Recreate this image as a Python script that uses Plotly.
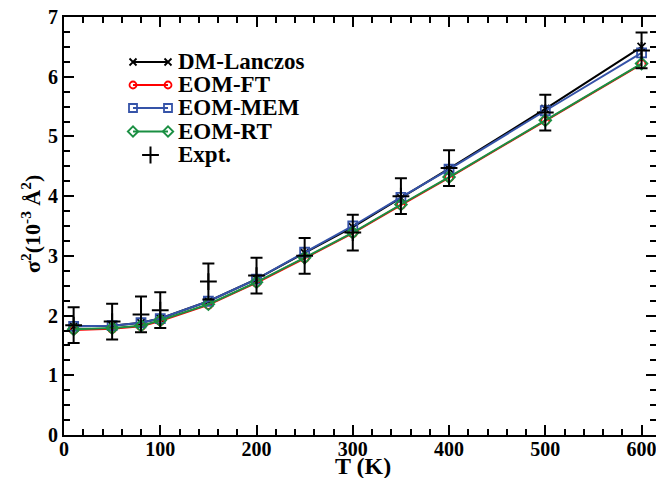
import plotly.graph_objects as go

# ---------------- data ----------------
T = [10, 50, 80, 100, 150, 200, 250, 300, 350, 400, 500, 600]
dm_lanczos = [1.82, 1.83, 1.88, 1.95, 2.24, 2.61, 3.05, 3.48, 3.97, 4.46, 5.46, 6.50]
eom_ft = [1.76, 1.78, 1.82, 1.91, 2.18, 2.55, 2.96, 3.38, 3.85, 4.31, 5.26, 6.21]
eom_mem = [1.82, 1.83, 1.88, 1.95, 2.24, 2.61, 3.06, 3.50, 3.98, 4.45, 5.43, 6.40]
eom_rt = [1.77, 1.79, 1.83, 1.92, 2.19, 2.56, 2.97, 3.39, 3.86, 4.32, 5.27, 6.22]
expt = [1.84, 1.90, 2.02, 2.09, 2.57, 2.67, 3.00, 3.39, 4.00, 4.47, 5.40, 6.44]
expt_err = [0.30, 0.30, 0.30, 0.30, 0.30, 0.30, 0.30, 0.30, 0.30, 0.30, 0.30, 0.30]

names = ["DM-Lanczos", "EOM-FT", "EOM-MEM", "EOM-RT", "Expt."]
colors = ["black", "#ff0000", "#3553a8", "#1a8f42", "black"]
symbols = ["x-thin-open", "circle-open", "square-open", "diamond-open", "cross-thin-open"]
sizes = [8, 8, 9, 9, 12]

FONT = "Liberation Serif"

# plot-area geometry in pixels (used to place legend/titles)
L, R, TOP, BOT = 64, 656, 17, 435


def px(xp):
    return (xp - L) / (R - L)


def py(yp):
    return (BOT - yp) / (BOT - TOP)


fig = go.Figure()
series = [dm_lanczos, eom_ft, eom_mem, eom_rt]
for i, ys in enumerate(series):
    fig.add_trace(go.Scatter(
        x=T, y=ys, mode="lines+markers", name=names[i],
        line=dict(color=colors[i], width=2),
        marker=dict(symbol=symbols[i], size=sizes[i], color=colors[i],
                    line=dict(color=colors[i], width=1.8)),
        showlegend=False))

fig.add_trace(go.Scatter(
    x=T, y=expt, mode="markers", name=names[4],
    marker=dict(symbol=symbols[4], size=sizes[4], color="black",
                line=dict(color="black", width=2)),
    error_y=dict(type="data", array=expt_err, visible=True,
                 color="black", thickness=2, width=6),
    showlegend=False))

# ---------------- custom legend (pixel-based overlay axes) ----------------
leg_rows = [62, 85, 108, 131.5, 155]
leg_x0, leg_x1, leg_tx = 133, 168, 176
for i in range(5):
    yy = leg_rows[i]
    if i < 4:
        fig.add_trace(go.Scatter(
            x=[leg_x0, leg_x1], y=[yy, yy], mode="lines+markers",
            xaxis="x2", yaxis="y2", showlegend=False, hoverinfo="skip",
            line=dict(color=colors[i], width=2),
            marker=dict(symbol=symbols[i], size=sizes[i] - 1, color=colors[i],
                        line=dict(color=colors[i], width=1.8))))
    else:
        fig.add_trace(go.Scatter(
            x=[(leg_x0 + leg_x1) / 2], y=[yy], mode="markers",
            xaxis="x2", yaxis="y2", showlegend=False, hoverinfo="skip",
            marker=dict(symbol=symbols[i], size=sizes[i], color="black",
                        line=dict(color="black", width=2))))
    fig.add_annotation(x=px(leg_tx), y=py(yy), xref="paper", yref="paper",
                       text="<b>%s</b>" % names[i],
                       showarrow=False, xanchor="left", yanchor="middle",
                       font=dict(family=FONT, size=23, color="black"))

# axis titles
fig.add_annotation(x=px(363), y=py(466), xref="paper", yref="paper", text="<b>T (K)</b>",
                   showarrow=False, xanchor="center", yanchor="middle",
                   font=dict(family=FONT, size=24, color="black"))
fig.add_annotation(x=px(31), y=py(224), xref="paper", yref="paper",
                   text="<b>σ<sup>2</sup>(10<sup>-3</sup> Å<sup>2</sup>)</b>",
                   showarrow=False, xanchor="center", yanchor="middle", textangle=-90,
                   font=dict(family=FONT, size=22, color="black"))

axis_common = dict(
    showline=True, linecolor="black", linewidth=2, mirror="ticks",
    ticks="inside", ticklen=10, tickwidth=1.5, tickcolor="black",
    showgrid=False, zeroline=False, automargin=False,
    ticklabeloverflow="allow",
    tickfont=dict(family=FONT, size=20, color="black"),
)

fig.update_layout(
    width=656, height=478,
    margin=dict(l=L, r=656 - R, t=TOP, b=478 - BOT, autoexpand=False),
    paper_bgcolor="white", plot_bgcolor="white",
    font=dict(family=FONT, color="black"),
    xaxis=dict(range=[0, 615], dtick=100, tick0=0, ticklabelstandoff=-5,
               minor=dict(dtick=20, ticks="inside", ticklen=6, tickwidth=1.5, tickcolor="black"),
               tickprefix="<b>", ticksuffix="</b>",
               **axis_common),
    yaxis=dict(range=[0, 7], dtick=1, tick0=0,
               minor=dict(dtick=0.25, ticks="inside", ticklen=6, tickwidth=1.5, tickcolor="black"),
               tickprefix="<b>", ticksuffix="</b>",
               **axis_common),
    xaxis2=dict(overlaying="x", range=[L, R], visible=False, fixedrange=True, automargin=False),
    yaxis2=dict(overlaying="y", range=[BOT, TOP], visible=False, fixedrange=True, automargin=False),
    showlegend=False,
)

fig.write_html("out.html", config={"displayModeBar": False},
               post_script="document.body.style.margin='0';document.body.style.overflow='hidden';")
